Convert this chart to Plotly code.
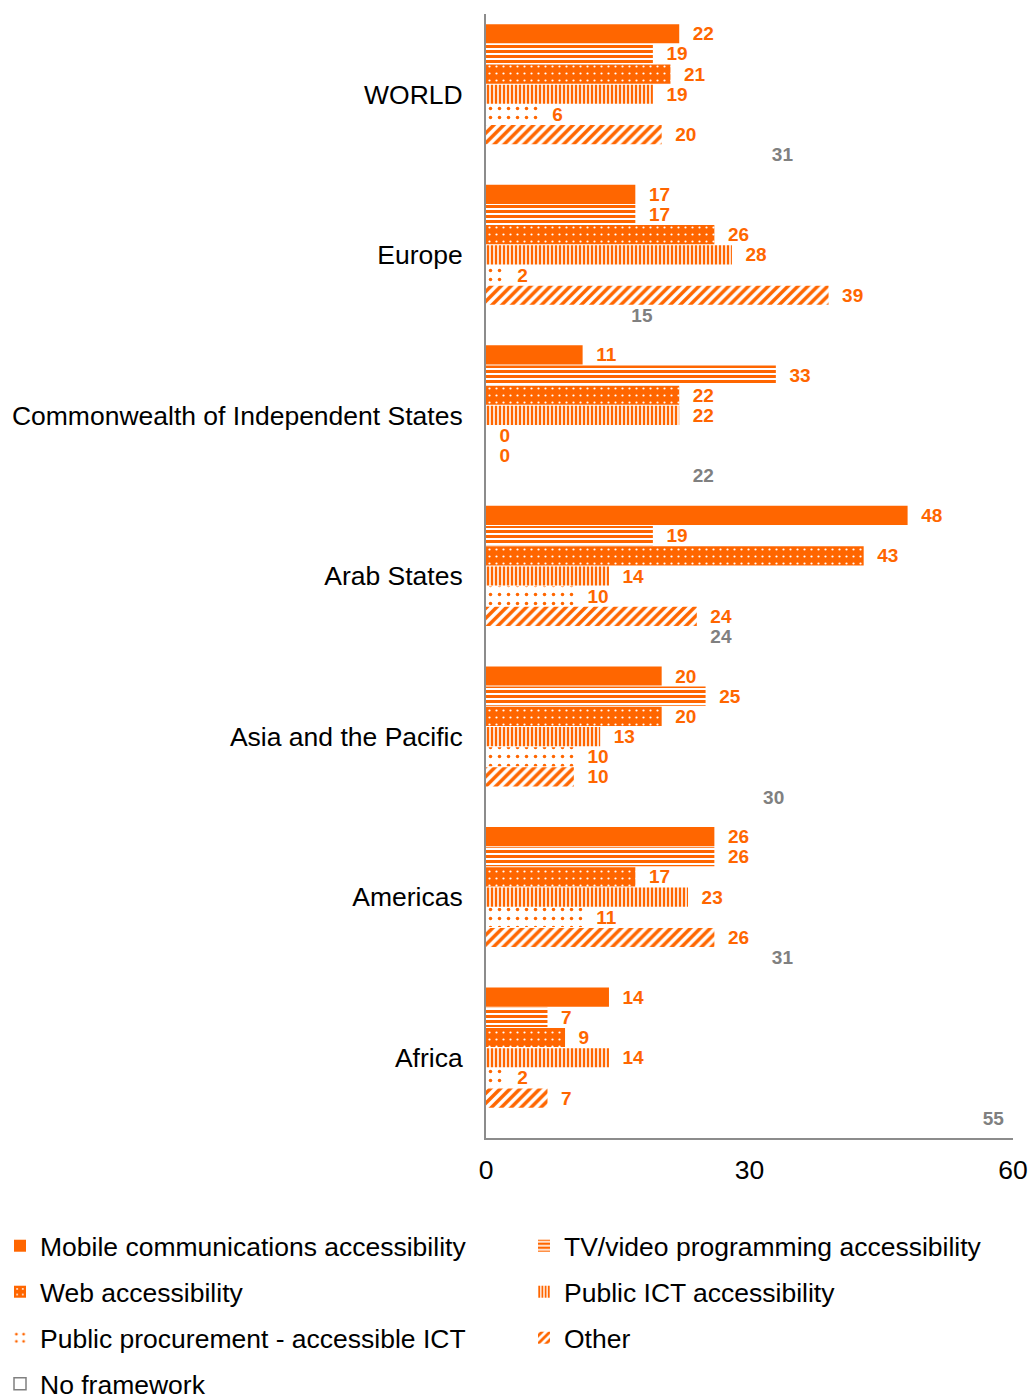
import plotly.graph_objects as go

regions = ["WORLD", "Europe", "Commonwealth of Independent States", "Arab States",
           "Asia and the Pacific", "Americas", "Africa"]
mobile = [22, 17, 11, 48, 20, 26, 14]
tv_video = [19, 17, 33, 19, 25, 26, 7]
web = [21, 26, 22, 43, 20, 17, 9]
public_ict = [19, 28, 22, 14, 13, 23, 14]
procurement = [6, 2, 0, 10, 10, 11, 2]
other = [20, 39, 0, 24, 10, 26, 7]
no_framework = [31, 15, 22, 24, 30, 31, 55]

x_ticks = [0, 30, 60]

ORANGE = "#FF6600"
GRAY = "#808080"
FONT = "Liberation Sans, Arial, sans-serif"
W, H = 1030, 1395

# legend slot (column, row) for each entry
series = [
    ("Mobile communications accessibility", mobile, dict(shape=""), (0, 0)),
    ("TV/video programming accessibility", tv_video,
     dict(shape="-", fgcolor=ORANGE, bgcolor="white", size=5, solidity=0.6, fillmode="replace"), (1, 0)),
    ("Web accessibility", web,
     dict(shape=".", fgcolor="white", bgcolor=ORANGE, size=7, solidity=0.08, fillmode="replace"), (0, 1)),
    ("Public ICT accessibility", public_ict,
     dict(shape="|", fgcolor=ORANGE, bgcolor="white", size=4, solidity=0.6, fillmode="replace"), (1, 1)),
    ("Public procurement - accessible ICT", procurement,
     dict(shape=".", fgcolor=ORANGE, bgcolor="white", size=9, solidity=0.12, fillmode="replace"), (0, 2)),
    ("Other", other,
     dict(shape="/", fgcolor=ORANGE, bgcolor="white", size=7, solidity=0.5, fillmode="replace"), (1, 2)),
]

col_x = [-16, 524]
row_y = [1246, 1292, 1338, 1384]

fig = go.Figure()
legends = {}
for i, (name, vals, pat, (c, r)) in enumerate(series):
    key = "legend" if i == 0 else f"legend{i + 1}"
    legends[key] = (c, r)
    fig.add_trace(go.Bar(
        name=name, y=regions, x=vals, orientation="h",
        marker=dict(color=ORANGE, pattern=pat, line=dict(width=0)),
        text=vals, texttemplate="\u00a0\u00a0%{x}", textposition="outside",
        constraintext="none",
        textfont=dict(family=FONT, size=19, color=ORANGE, weight="bold"),
        cliponaxis=False, legend=key,
    ))

fig.add_trace(go.Bar(
    name="No framework", y=regions, x=no_framework, orientation="h",
    marker=dict(color="rgba(255,255,255,0)", line=dict(width=0)),
    text=no_framework, texttemplate="\u00a0\u00a0%{x}", textposition="outside",
    constraintext="none",
    textfont=dict(family=FONT, size=19, color=GRAY, weight="bold"),
    cliponaxis=False, showlegend=False,
))
# legend entry for "No framework" (white box with gray outline); scatter so it takes no bar slot
fig.add_trace(go.Scatter(
    name="No framework", y=[None], x=[None], mode="markers",
    marker=dict(symbol="square", size=12, color="white", line=dict(width=1.5, color=GRAY)),
    legend="legend7", hoverinfo="skip",
))
legends["legend7"] = (0, 3)

leg_layout = {}
for key, (c, r) in legends.items():
    leg_layout[key] = dict(
        orientation="h", xref="container", yref="container",
        x=col_x[c] / W, y=1 - row_y[r] / H, xanchor="left", yanchor="middle",
        font=dict(family=FONT, size=26.5, color="#000"),
        bgcolor="rgba(0,0,0,0)", borderwidth=0,
    )

fig.update_layout(
    width=W, height=H,
    margin=dict(l=486, r=17, t=14, b=257, autoexpand=False),
    paper_bgcolor="white", plot_bgcolor="white",
    barmode="group", bargap=0.12, bargroupgap=0.05,
    font=dict(family=FONT, size=26.5, color="#000"),
    xaxis=dict(range=[0, 60], tickvals=x_ticks, showgrid=False, zeroline=False,
               showline=True, linecolor="#8c8c8c", linewidth=2, ticks="",
               automargin=False,
               ticklabelstandoff=7, tickfont=dict(size=26.5, color="#000")),
    yaxis=dict(autorange="reversed", showgrid=False, zeroline=False,
               showline=True, linecolor="#8c8c8c", linewidth=2, ticks="",
               automargin=False,
               ticklabelstandoff=16, tickfont=dict(size=26.5, color="#000")),
    **leg_layout,
)

fig.write_html("out.html", config={"displayModeBar": False},
               post_script="document.body.style.margin='0';document.body.style.overflow='hidden';")
